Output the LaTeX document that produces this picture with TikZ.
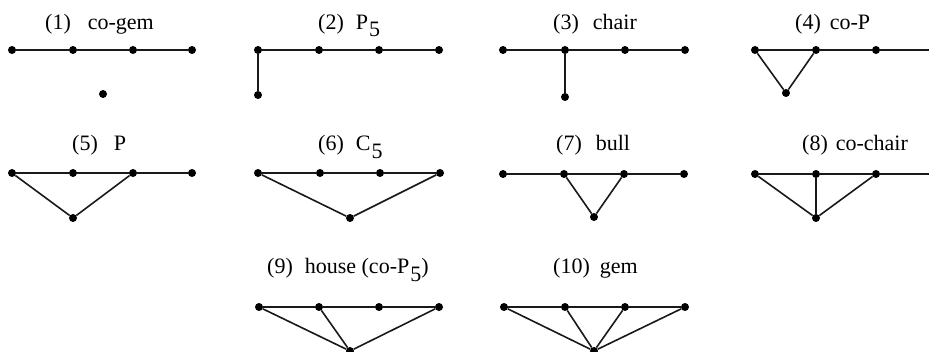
\documentclass[tikz,border=0pt]{standalone}
\usepackage{fontspec}
\setmainfont{Liberation Serif}
\usepackage{tikz}
\usetikzlibrary{positioning}

\newcommand{\lowfive}{\kern1pt\raisebox{-7.5pt}{5}}

\begin{document}
\begin{tikzpicture}[
    x=1pt, y=-1pt,
    vtx/.style={circle, fill=black, inner sep=0pt, minimum size=8pt},
    edge/.style={draw=black!90, line width=1.6pt},
    gname/.style={font=\fontsize{22}{25}\selectfont, inner sep=0pt, anchor=base west},
]
    \useasboundingbox (0,0) rectangle (929,352);

    % (1) co-gem
    \node[gname] (n1) at (45,29.5) {(1)\hspace{17pt}co-gem};
    \node[vtx] (a1) at (12,50) {};
    \node[vtx] (a2) at (73,50) {};
    \node[vtx] (a3) at (133,50) {};
    \node[vtx] (a4) at (192,50) {};
    \node[vtx] (a5) at (103,94) {};
    \draw[edge] (a1) -- (a2) -- (a3) -- (a4);

    % (2) P5
    \node[gname] (n2) at (318,29.5) {(2)\hspace{12pt}P\lowfive};
    \node[vtx] (b1) at (258,50) {};
    \node[vtx] (b2) at (319,50) {};
    \node[vtx] (b3) at (379,50) {};
    \node[vtx] (b4) at (439,50) {};
    \node[vtx] (b5) at (258,95) {};
    \draw[edge] (b5) -- (b1) -- (b2) -- (b3) -- (b4);

    % (3) chair
    \node[gname] (n3) at (553,29.5) {(3)\hspace{14pt}chair};
    \node[vtx] (c1) at (503,50) {};
    \node[vtx] (c2) at (565,50) {};
    \node[vtx] (c3) at (625,50) {};
    \node[vtx] (c4) at (685,50) {};
    \node[vtx] (c5) at (565,97) {};
    \draw[edge] (c1) -- (c2) -- (c3) -- (c4);
    \draw[edge] (c2) -- (c5);

    % (4) co-P
    \node[gname] (n4) at (795,29.5) {(4)\hspace{9pt}co-P};
    \node[vtx] (d1) at (755,50) {};
    \node[vtx] (d2) at (816,50) {};
    \node[vtx] (d3) at (876,50) {};
    \coordinate (d4) at (929,50);
    \node[vtx] (d5) at (786,93) {};
    \draw[edge] (d1) -- (d2) -- (d3) -- (d4);
    \draw[edge] (d1) -- (d5) -- (d2);

    % (5) P
    \node[gname] (n5) at (72,151) {(5)\hspace{16pt}P};
    \node[vtx] (e1) at (12,173) {};
    \node[vtx] (e2) at (73,173) {};
    \node[vtx] (e3) at (133,173) {};
    \node[vtx] (e4) at (192,173) {};
    \node[vtx] (e5) at (73,218) {};
    \draw[edge] (e1) -- (e2) -- (e3) -- (e4);
    \draw[edge] (e1) -- (e5) -- (e3);

    % (6) C5
    \node[gname] (n6) at (318,151) {(6)\hspace{12pt}C\lowfive};
    \node[vtx] (f1) at (258,173) {};
    \node[vtx] (f2) at (320,173) {};
    \node[vtx] (f3) at (380,173) {};
    \node[vtx] (f4) at (440,173) {};
    \node[vtx] (f5) at (350,218) {};
    \draw[edge] (f1) -- (f2) -- (f3) -- (f4) -- (f5) -- (f1);

    % (7) bull
    \node[gname] (n7) at (556,151) {(7)\hspace{14pt}bull};
    \node[vtx] (g1) at (503,174) {};
    \node[vtx] (g2) at (564,174) {};
    \node[vtx] (g3) at (624,174) {};
    \node[vtx] (g4) at (684,174) {};
    \node[vtx] (g5) at (594,217) {};
    \draw[edge] (g1) -- (g2) -- (g3) -- (g4);
    \draw[edge] (g2) -- (g5) -- (g3);

    % (8) co-chair
    \node[gname] (n8) at (802,151) {(8)\hspace{8pt}co-chair};
    \node[vtx] (h1) at (755,174) {};
    \node[vtx] (h2) at (816,174) {};
    \node[vtx] (h3) at (876,174) {};
    \coordinate (h4) at (929,174);
    \node[vtx] (h5) at (816,218) {};
    \draw[edge] (h1) -- (h2) -- (h3) -- (h4);
    \draw[edge] (h1) -- (h5) -- (h3);
    \draw[edge] (h2) -- (h5);

    % (9) house (co-P5)
    \node[gname] (n9) at (267,274) {(9)\hspace{12pt}house (co-P\lowfive)};
    \node[vtx] (i1) at (259,307) {};
    \node[vtx] (i2) at (319,307) {};
    \node[vtx] (i3) at (379,307) {};
    \node[vtx] (i4) at (439,307) {};
    \node[vtx] (i5) at (350,351) {};
    \draw[edge] (i1) -- (i2) -- (i3) -- (i4);
    \draw[edge] (i1) -- (i5) -- (i4);
    \draw[edge] (i2) -- (i5);

    % (10) gem
    \node[gname] (n10) at (553,274) {(10)\hspace{10pt}gem};
    \node[vtx] (j1) at (504,307) {};
    \node[vtx] (j2) at (565,307) {};
    \node[vtx] (j3) at (625,307) {};
    \node[vtx] (j4) at (685,307) {};
    \node[vtx] (j5) at (594,351) {};
    \draw[edge] (j1) -- (j2) -- (j3) -- (j4);
    \draw[edge] (j1) -- (j5) -- (j4);
    \draw[edge] (j2) -- (j5) -- (j3);
\end{tikzpicture}
\end{document}
